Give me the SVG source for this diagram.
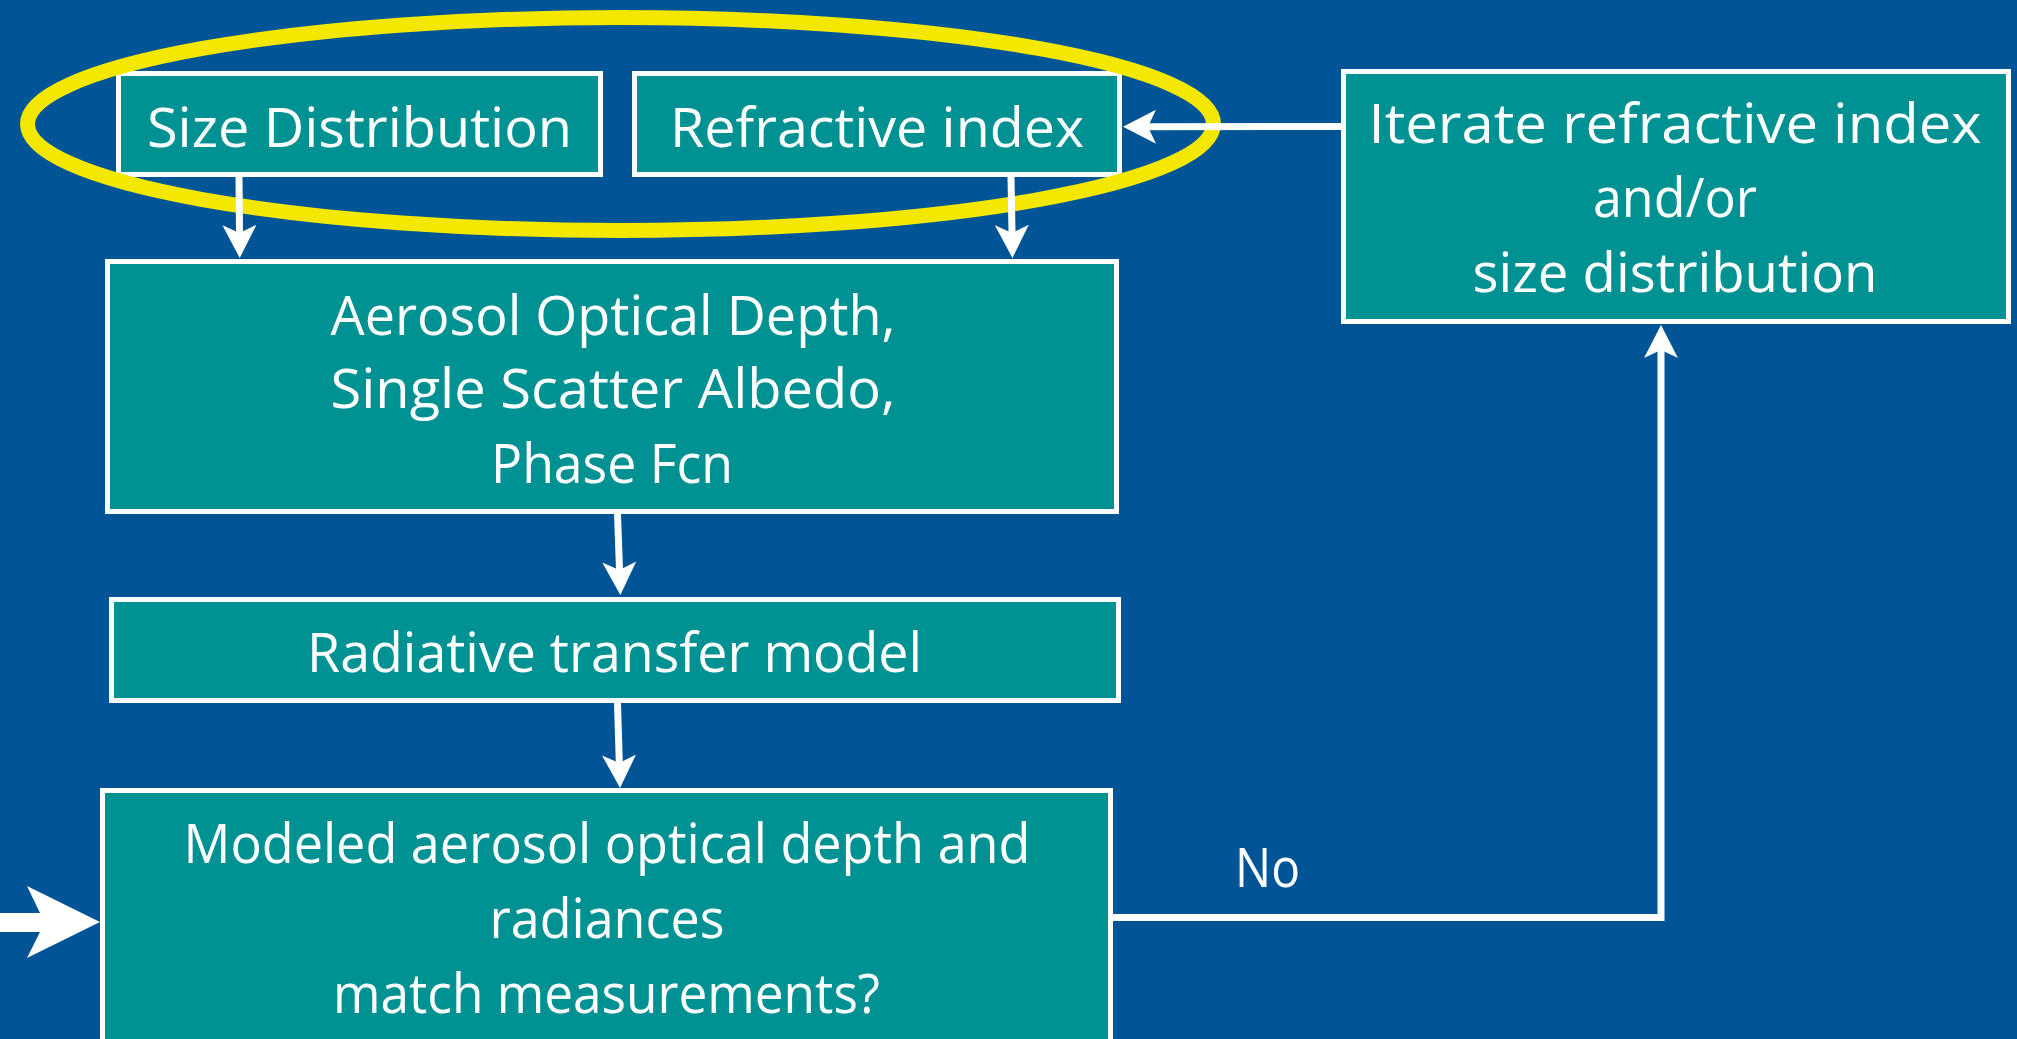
<svg xmlns="http://www.w3.org/2000/svg" width="2017" height="1039" viewBox="0 0 2017 1039">
  <defs>
    <style>
      .box { fill: #009292; stroke: #ffffff; stroke-width: 5; }
      .lbl { font-family: "Open Sans", "Liberation Sans", sans-serif; font-size: 55px; fill: #ffffff; text-anchor: middle; }
      .edge { fill: none; stroke: #ffffff; stroke-width: 7; stroke-linejoin: miter; }
      .halo { fill: none; stroke: #f4e800; stroke-width: 15; }
    </style>
    <!-- notched arrowhead; reference point sits on the notch so the shaft hides inside the head -->
    <marker id="head" markerUnits="userSpaceOnUse" viewBox="0 0 33 34" refX="8" refY="17" markerWidth="33" markerHeight="34" orient="auto">
      <path d="M0,0 L33,17 L0,34 L8,17 Z" fill="#ffffff"/>
    </marker>
  </defs>

  <!-- page background -->
  <rect x="0" y="0" width="2017" height="1039" fill="#015597"/>

  <!-- process boxes -->
  <g id="size-distribution">
    <rect class="box" x="118.5" y="73.5" width="482" height="101"/>
    <text class="lbl" x="359.5" y="147" textLength="425" lengthAdjust="spacingAndGlyphs">Size Distribution</text>
  </g>
  <g id="refractive-index">
    <rect class="box" x="634.5" y="73.5" width="485" height="101"/>
    <text class="lbl" x="877" y="147" textLength="414" lengthAdjust="spacingAndGlyphs">Refractive index</text>
  </g>
  <g id="iterate">
    <rect class="box" x="1343.5" y="71.5" width="665" height="250"/>
    <text class="lbl" x="1675" y="143" textLength="613" lengthAdjust="spacingAndGlyphs">Iterate refractive index</text>
    <text class="lbl" x="1675" y="217" textLength="164" lengthAdjust="spacingAndGlyphs">and/or</text>
    <text class="lbl" x="1675" y="292" textLength="405" lengthAdjust="spacingAndGlyphs">size distribution</text>
  </g>
  <g id="optical-properties">
    <rect class="box" x="107.5" y="261.5" width="1009" height="250"/>
    <text class="lbl" x="613" y="335" textLength="565" lengthAdjust="spacingAndGlyphs">Aerosol Optical Depth,</text>
    <text class="lbl" x="613" y="408" textLength="565" lengthAdjust="spacingAndGlyphs">Single Scatter Albedo,</text>
    <text class="lbl" x="612" y="483" textLength="242" lengthAdjust="spacingAndGlyphs">Phase Fcn</text>
  </g>
  <g id="radiative-transfer">
    <rect class="box" x="111.5" y="599.5" width="1007" height="101"/>
    <text class="lbl" x="614.5" y="672" textLength="615" lengthAdjust="spacingAndGlyphs">Radiative transfer model</text>
  </g>
  <g id="comparison">
    <rect class="box" x="102.5" y="790.5" width="1008" height="300"/>
    <text class="lbl" x="607" y="863" textLength="847" lengthAdjust="spacingAndGlyphs">Modeled aerosol optical depth and</text>
    <text class="lbl" x="607" y="938" textLength="235" lengthAdjust="spacingAndGlyphs">radiances</text>
    <text class="lbl" x="606.5" y="1013" textLength="547" lengthAdjust="spacingAndGlyphs">match measurements?</text>
  </g>

  <!-- highlight ring around the two inputs -->
  <ellipse class="halo" cx="620.5" cy="124" rx="593" ry="106.5"/>

  <!-- connectors -->
  <g id="connectors">
    <line class="edge" x1="239" y1="177" x2="239.5" y2="233" marker-end="url(#head)"/>
    <line class="edge" x1="1011" y1="177" x2="1012" y2="233" marker-end="url(#head)"/>
    <line class="edge" x1="617.5" y1="514" x2="619.5" y2="570" marker-end="url(#head)"/>
    <line class="edge" x1="617.5" y1="703" x2="619.3" y2="763" marker-end="url(#head)"/>
    <line class="edge" x1="1342" y1="126.5" x2="1148" y2="126.8" marker-end="url(#head)"/>
    <polyline class="edge" points="1110,917.5 1661,917.5 1661,350" marker-end="url(#head)"/>
    <text class="lbl" x="1267.5" y="887" textLength="65" lengthAdjust="spacingAndGlyphs">No</text>
    <!-- block arrow entering from the left edge -->
    <polygon points="0,913 40,913 27,886 100,922 27,958 40,932 0,932" fill="#ffffff"/>
  </g>
</svg>
